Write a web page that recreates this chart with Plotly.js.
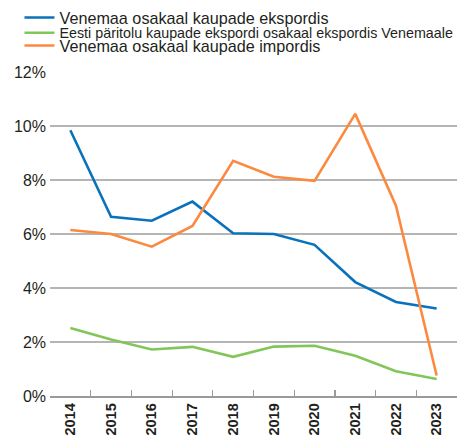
<!DOCTYPE html>
<html><head><meta charset="utf-8">
<script src="https://cdn.plot.ly/plotly-3.0.1.min.js"></script>
<style>html,body{margin:0;padding:0;background:#fff}#chart{width:459px;height:437px}</style>
</head><body><div id="chart"></div>
<script>
const years = ['2014','2015','2016','2017','2018','2019','2020','2021','2022','2023'];
const exportShare = [9.84, 6.64, 6.49, 7.2, 6.03, 6.0, 5.6, 4.22, 3.48, 3.24];
const estonianOriginShare = [2.52, 2.09, 1.72, 1.82, 1.45, 1.83, 1.86, 1.49, 0.92, 0.63];
const importShare = [6.15, 6.0, 5.53, 6.3, 8.71, 8.12, 7.97, 10.45, 7.05, 0.76];
const names = ['Venemaa osakaal kaupade ekspordis',
  'Eesti päritolu kaupade ekspordi osakaal ekspordis Venemaale',
  'Venemaa osakaal kaupade impordis'];

const traces = [
  {x: years, y: exportShare, name: names[0], legend:'legend', mode:'lines', line:{color:'#0a72bb', width:2.6}},
  {x: years, y: estonianOriginShare, name: names[1], legend:'legend2', mode:'lines', line:{color:'#82c65a', width:2.6}},
  {x: years, y: importShare, name: names[2], legend:'legend3', mode:'lines', line:{color:'#fb8a40', width:2.6}}
];
const legBase = {x:-0.075, xanchor:'left', yanchor:'middle', bgcolor:'rgba(0,0,0,0)', borderwidth:0};
const layout = {
  width:459, height:437,
  margin:{l:50, r:2, t:71, b:41},
  paper_bgcolor:'#fff', plot_bgcolor:'#fff',
  font:{family:'Liberation Sans, Arial, sans-serif', color:'#231f20', size:16},
  showlegend:true,
  legend: Object.assign({}, legBase, {y:1.163, font:{size:16.2}}),
  legend2: Object.assign({}, legBase, {y:1.1170, font:{size:14.3}}),
  legend3: Object.assign({}, legBase, {y:1.0769, font:{size:16.2}}),
  xaxis:{type:'category', range:[-0.5,9.5], showgrid:false, showline:true, linecolor:'#9a9a9a', linewidth:1.5,
    ticks:'inside', tickson:'boundaries', ticklen:6, tickcolor:'#9a9a9a', tickwidth:1.2,
    tickangle:-90, tickfont:{size:14.5, family:'Liberation Sans, Arial, sans-serif', weight:'bold'}, zeroline:false, fixedrange:true},
  yaxis:{range:[0,12], dtick:2, ticksuffix:'%', showgrid:true, gridcolor:'#b5b5b5', gridwidth:1.4,
    zeroline:false, showline:false, tickfont:{size:16}, ticklabelstandoff:3, fixedrange:true}
};
Plotly.newPlot('chart', traces, layout, {displayModeBar:false, staticPlot:true});
</script></body></html>
